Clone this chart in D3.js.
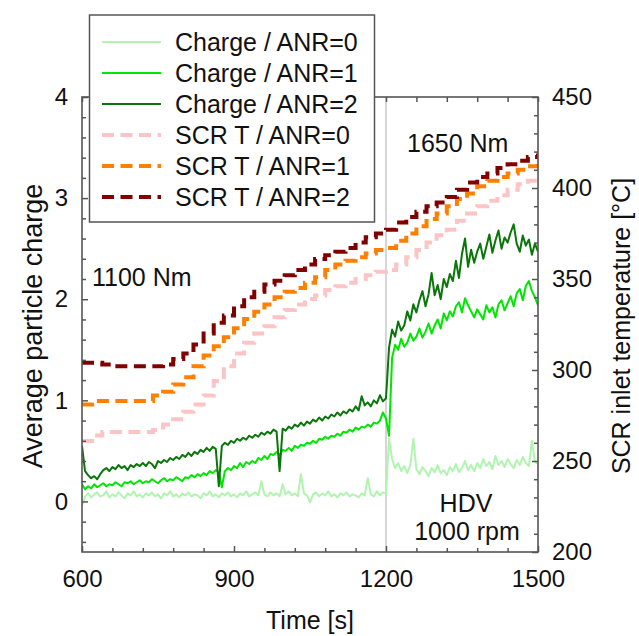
<!DOCTYPE html>
<html>
<head>
<meta charset="utf-8">
<script src="https://cdn.jsdelivr.net/npm/d3@7"></script>
<style>
  body { margin: 0; background: #fff; }
  svg { font-family: Arial, 'Liberation Sans', sans-serif; }
</style>
</head>
<body>
<div id="chart"></div>
<script>
// Time grid of the charge series (s), one sample every 6 s
const chargeStart = 600;
const chargeStep = 6;

// Average particle charge, ANR = 0 / 1 / 2
const chargeAnr0 = [
  -0.04, 0.05, 0.08, 0.04, 0.07, 0.09, 0.05, 0.06, 0.10, 0.04,
  0.07, 0.05, 0.09, 0.06, 0.03, 0.08, 0.06, 0.10, 0.05, 0.07,
  0.04, 0.08, 0.06, 0.09, 0.05, 0.07, 0.03, 0.08, 0.06, 0.10,
  0.05, 0.07, 0.04, 0.08, 0.06, 0.09, 0.05, 0.07, 0.06, 0.03,
  0.08, 0.06, 0.10, 0.05, 0.07, 0.04, 0.08, 0.06, 0.09, 0.05,
  0.07, 0.04, 0.08, 0.06, 0.10, 0.05, 0.07, 0.09, 0.06, 0.20,
  0.07, 0.05, 0.09, 0.06, 0.08, 0.05, 0.17, 0.07, 0.10, 0.06,
  0.08, 0.05, 0.27, 0.08, 0.06, -0.01, 0.07, 0.09, 0.05, 0.08,
  0.06, 0.10, 0.05, 0.07, 0.04, 0.08, 0.06, 0.09, 0.05, 0.07,
  0.06, 0.04, 0.08, 0.06, 0.23, 0.07, 0.05, 0.10, 0.06, 0.09,
  0.08, 0.62, 0.42, 0.33, 0.38, 0.30, 0.35, 0.28, 0.36, 0.62,
  0.32, 0.27, 0.34, 0.30, 0.25, 0.33, 0.29, 0.36, 0.28, 0.31,
  0.26, 0.34, 0.30, 0.37, 0.29, 0.33, 0.40, 0.31, 0.36, 0.30,
  0.38, 0.33, 0.42, 0.35, 0.39, 0.32, 0.45, 0.36, 0.40, 0.34,
  0.42, 0.37, 0.33, 0.41, 0.36, 0.44, 0.38, 0.35, 0.60, 0.39,
  0.37
];

const chargeAnr1 = [
  0.17, 0.12, 0.15, 0.13, 0.17, 0.14, 0.16, 0.18, 0.15, 0.17,
  0.16, 0.19, 0.17, 0.15, 0.19, 0.18, 0.20, 0.17, 0.19, 0.21,
  0.18, 0.20, 0.19, 0.22, 0.20, 0.18, 0.21, 0.23, 0.20, 0.22,
  0.21, 0.24, 0.22, 0.20, 0.24, 0.23, 0.26, 0.24, 0.27, 0.25,
  0.28, 0.26, 0.30, 0.28, 0.31, 0.29, 0.14, 0.30, 0.33, 0.31,
  0.35, 0.33, 0.38, 0.34, 0.39, 0.37, 0.40, 0.38, 0.43, 0.41,
  0.45, 0.42, 0.47, 0.46, 0.49, 0.46, 0.51, 0.50, 0.53, 0.50,
  0.55, 0.53, 0.56, 0.55, 0.58, 0.57, 0.60, 0.58, 0.62, 0.61,
  0.64, 0.62, 0.65, 0.64, 0.67, 0.65, 0.69, 0.68, 0.71, 0.69,
  0.73, 0.71, 0.74, 0.73, 0.76, 0.74, 0.78, 0.77, 0.80, 0.88,
  0.82, 0.65, 1.42, 1.55, 1.50, 1.61, 1.53, 1.57, 1.66, 1.59,
  1.63, 1.71, 1.62, 1.68, 1.76, 1.66, 1.74, 1.80, 1.71, 1.86,
  1.79, 1.88, 1.83, 1.93, 1.97, 1.87, 2.01, 1.94, 1.88, 1.82,
  1.90, 1.85, 1.80, 1.94, 1.87, 1.92, 1.82, 1.95, 1.99, 1.89,
  1.96, 2.03, 1.93, 2.06, 2.10, 1.99, 2.13, 2.18, 2.08, 2.02,
  1.94
];

const chargeAnr2 = [
  0.55, 0.30, 0.26, 0.23, 0.25, 0.22, 0.27, 0.31, 0.33, 0.30,
  0.34, 0.32, 0.36, 0.33, 0.35, 0.31, 0.36, 0.34, 0.37, 0.35,
  0.38, 0.35, 0.39, 0.37, 0.33, 0.40, 0.38, 0.41, 0.39, 0.43,
  0.41, 0.44, 0.42, 0.46, 0.44, 0.48, 0.45, 0.49, 0.47, 0.51,
  0.49, 0.53, 0.50, 0.54, 0.52, 0.15, 0.55, 0.58, 0.56, 0.60,
  0.58, 0.62, 0.60, 0.63, 0.61, 0.65, 0.63, 0.66, 0.64, 0.68,
  0.66, 0.69, 0.67, 0.71, 0.69, 0.30, 0.72, 0.70, 0.74, 0.72,
  0.76, 0.74, 0.78, 0.75, 0.79, 0.77, 0.81, 0.79, 0.83, 0.80,
  0.84, 0.82, 0.86, 0.84, 0.88, 0.85, 0.89, 0.87, 0.91, 0.89,
  0.94, 0.90, 1.04, 0.95, 0.98, 0.94, 1.00, 0.97, 1.05, 0.99,
  1.02, 1.52, 1.70, 1.63, 1.78, 1.69, 1.74, 1.88, 1.79, 1.95,
  1.87, 1.99, 2.08, 1.93, 2.05, 2.26, 2.04, 2.14, 2.00, 2.20,
  2.12, 2.25, 2.18, 2.38, 2.21, 2.45, 2.60, 2.32, 2.49, 2.36,
  2.47, 2.55, 2.40, 2.52, 2.64, 2.46, 2.58, 2.68, 2.50, 2.61,
  2.56, 2.66, 2.74, 2.55, 2.47, 2.63, 2.53, 2.59, 2.44, 2.55,
  2.47
];

// SCR inlet temperature (°C), one sample every 20 s
const tempTime = [
  600, 620, 640, 660, 680, 700, 720, 740, 760, 780,
  800, 820, 840, 860, 880, 900, 920, 940, 960, 980,
  1000, 1020, 1040, 1060, 1080, 1100, 1120, 1140, 1160, 1180,
  1200, 1220, 1240, 1260, 1280, 1300, 1320, 1340, 1360, 1380,
  1400, 1420, 1440, 1460, 1480, 1500
];

const tempAnr0 = [
  261, 264, 266, 266, 266, 266, 266, 267, 270, 273,
  277, 281, 286, 294, 302, 309, 315, 320, 324, 329,
  333, 336, 339, 341, 344, 346, 348, 350, 352, 354,
  355, 358, 362, 366, 370, 374, 377, 382, 386, 390,
  393, 396, 399, 402, 404, 406
];

const tempAnr1 = [
  281, 283, 283, 283, 283, 283, 283, 286, 288, 292,
  296, 302, 308, 313, 318, 323, 328, 332, 336, 340,
  343, 345, 348, 351, 355, 358, 360, 362, 364, 366,
  367, 371, 375, 379, 383, 386, 390, 394, 397, 401,
  404, 406, 408, 410, 412, 414
];

const tempAnr2 = [
  304, 304, 303, 302, 302, 302, 302, 302, 303, 306,
  309, 314, 320, 326, 330, 335, 340, 343, 347, 349,
  352, 355, 358, 361, 363, 365, 367, 370, 373, 375,
  377, 381, 384, 387, 390, 392, 395, 399, 403, 406,
  408, 411, 413, 415, 417, 419
];

const chargeTicks = [0, 1, 2, 3, 4];
const tempTicks = [200, 250, 300, 350, 400, 450];
const timeTicks = [600, 900, 1200, 1500];

const chargeSeries = [
  { label: 'Charge / ANR=0', values: chargeAnr0, color: '#b0f4b0' },
  { label: 'Charge / ANR=1', values: chargeAnr1, color: '#00e600' },
  { label: 'Charge / ANR=2', values: chargeAnr2, color: '#0a760a' }
];

const tempSeries = [
  { label: 'SCR T / ANR=0', values: tempAnr0, color: '#fcc4c4' },
  { label: 'SCR T / ANR=1', values: tempAnr1, color: '#ff8000' },
  { label: 'SCR T / ANR=2', values: tempAnr2, color: '#800000' }
];

const width = 639;
const height = 636;
const plot = { left: 82, right: 538, top: 97, bottom: 552 };
const axisColor = '#555';
const fontSize = '25px';
const tickFontSize = '24px';

const svg = d3.select('#chart').append('svg')
  .attr('width', width)
  .attr('height', height);

// Scales
const x = d3.scaleLinear().domain([600, 1500]).range([plot.left, plot.right]);
const yCharge = d3.scaleLinear().domain([-0.5, 4]).range([plot.bottom, plot.top]);
const yTemp = d3.scaleLinear().domain([200, 450]).range([plot.bottom, plot.top]);

svg.append('clipPath')
  .attr('id', 'plot-clip')
  .append('rect')
  .attr('x', plot.left)
  .attr('y', plot.top)
  .attr('width', plot.right - plot.left)
  .attr('height', plot.bottom - plot.top);

// Load step marker at 1200 s
svg.append('line')
  .attr('x1', x(1200)).attr('x2', x(1200))
  .attr('y1', plot.top).attr('y2', plot.bottom)
  .attr('stroke', '#c8c8c8')
  .attr('stroke-width', 1.5);

const lines = svg.append('g').attr('clip-path', 'url(#plot-clip)');

// Temperature lines (dashed, stepped)
const tempLine = d3.line()
  .x((d, i) => x(tempTime[i]))
  .y(d => yTemp(d))
  .curve(d3.curveStepAfter);

tempSeries.forEach(s => {
  lines.append('path')
    .datum(s.values)
    .attr('fill', 'none')
    .attr('stroke', s.color)
    .attr('stroke-width', 4)
    .attr('stroke-dasharray', '12,6.5')
    .attr('d', tempLine);
});

// Charge lines
const chargeLine = d3.line()
  .x((d, i) => x(chargeStart + i * chargeStep))
  .y(d => yCharge(d));

chargeSeries.forEach(s => {
  lines.append('path')
    .datum(s.values)
    .attr('fill', 'none')
    .attr('stroke', s.color)
    .attr('stroke-width', 2)
    .attr('stroke-linejoin', 'round')
    .attr('d', chargeLine);
});

// Axes: all ticks point inwards
function styleAxis(g) {
  g.select('.domain').remove();
  g.selectAll('.tick line').attr('stroke', axisColor).attr('stroke-width', 1.5);
  g.selectAll('.tick text').attr('fill', '#111').style('font-size', tickFontSize);
}

const minorCharge = d3.range(-4, 41, 2).map(v => v / 10).filter(v => !chargeTicks.includes(v));
const minorTemp = d3.range(210, 450, 10).filter(v => !tempTicks.includes(v));
const minorTime = d3.range(660, 1500, 60).filter(v => !timeTicks.includes(v));

svg.append('g')
  .attr('transform', `translate(${plot.left},0)`)
  .call(d3.axisLeft(yCharge).tickValues(chargeTicks).tickSize(-6).tickPadding(14).tickFormat(d3.format('d')))
  .call(styleAxis);

svg.append('g')
  .attr('transform', `translate(${plot.left},0)`)
  .call(d3.axisLeft(yCharge).tickValues(minorCharge).tickSize(-4).tickFormat(''))
  .call(styleAxis);

svg.append('g')
  .attr('transform', `translate(${plot.right},0)`)
  .call(d3.axisRight(yTemp).tickValues(tempTicks).tickSize(-6).tickPadding(14).tickFormat(d3.format('d')))
  .call(styleAxis);

svg.append('g')
  .attr('transform', `translate(${plot.right},0)`)
  .call(d3.axisRight(yTemp).tickValues(minorTemp).tickSize(-4).tickFormat(''))
  .call(styleAxis);

svg.append('g')
  .attr('transform', `translate(0,${plot.bottom})`)
  .call(d3.axisBottom(x).tickValues(timeTicks).tickSize(-6).tickPadding(18).tickFormat(d3.format('d')))
  .call(styleAxis);

svg.append('g')
  .attr('transform', `translate(0,${plot.bottom})`)
  .call(d3.axisBottom(x).tickValues(minorTime).tickSize(-4).tickFormat(''))
  .call(styleAxis);

svg.append('g')
  .attr('transform', `translate(0,${plot.top})`)
  .call(d3.axisTop(x).tickValues(timeTicks.concat(minorTime)).tickSize(-5).tickFormat(''))
  .call(styleAxis);

// Plot frame
svg.append('rect')
  .attr('x', plot.left)
  .attr('y', plot.top)
  .attr('width', plot.right - plot.left)
  .attr('height', plot.bottom - plot.top)
  .attr('fill', 'none')
  .attr('stroke', axisColor)
  .attr('stroke-width', 1.6);

// Axis titles
svg.append('text')
  .attr('x', (plot.left + plot.right) / 2)
  .attr('y', 629)
  .attr('text-anchor', 'middle')
  .style('font-size', fontSize)
  .attr('fill', '#111')
  .text('Time [s]');

svg.append('text')
  .attr('transform', `translate(33,326) rotate(-90)`)
  .attr('dy', '0.35em')
  .attr('text-anchor', 'middle')
  .style('font-size', '27px')
  .attr('fill', '#111')
  .text('Average particle charge');

svg.append('text')
  .attr('transform', `translate(621,326) rotate(-90)`)
  .attr('dy', '0.35em')
  .attr('text-anchor', 'middle')
  .style('font-size', fontSize)
  .attr('fill', '#111')
  .text('SCR inlet temperature [°C]');

// Annotations
const notes = [
  { text: '1100 Nm', x: 92, y: 286, anchor: 'start' },
  { text: '1650 Nm', x: 407, y: 152, anchor: 'start' },
  { text: 'HDV', x: 466, y: 512, anchor: 'middle' },
  { text: '1000 rpm', x: 467, y: 540, anchor: 'middle' }
];

svg.selectAll('.note')
  .data(notes)
  .enter()
  .append('text')
  .attr('class', 'note')
  .attr('x', d => d.x)
  .attr('y', d => d.y)
  .attr('text-anchor', d => d.anchor)
  .style('font-size', fontSize)
  .attr('fill', '#111')
  .text(d => d.text);

// Legend
const legend = svg.append('g');

legend.append('rect')
  .attr('x', 89.5)
  .attr('y', 15)
  .attr('width', 285)
  .attr('height', 207)
  .attr('fill', '#fff')
  .attr('stroke', axisColor)
  .attr('stroke-width', 1.5);

const legendItems = chargeSeries.map(s => ({ ...s, dashed: false }))
  .concat(tempSeries.map(s => ({ ...s, dashed: true })));

legendItems.forEach((item, i) => {
  const ly = 42 + i * 31;
  legend.append('line')
    .attr('x1', 102).attr('x2', 161)
    .attr('y1', ly).attr('y2', ly)
    .attr('stroke', item.color)
    .attr('stroke-width', item.dashed ? 4 : 2)
    .attr('stroke-dasharray', item.dashed ? '12,6.5' : null);

  legend.append('text')
    .attr('x', 175)
    .attr('y', ly)
    .attr('dy', '0.35em')
    .style('font-size', fontSize)
    .attr('fill', '#111')
    .text(item.label);
});
</script>
</body>
</html>
